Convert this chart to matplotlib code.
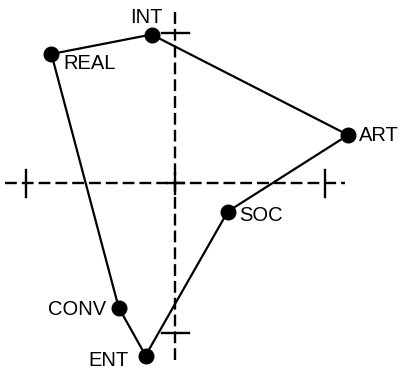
import numpy as np
import matplotlib.pyplot as plt

plt.rcParams['font.family'] = ['Liberation Sans', 'DejaVu Sans']
plt.rcParams['lines.scale_dashes'] = False

# polygon vertices, in order around the outline
labels = ['REAL', 'INT', 'ART', 'SOC', 'ENT', 'CONV']
xs = [-0.83, -0.16, 1.155, 0.35, -0.20, -0.38]
ys = [0.86, 0.99, 0.32, -0.19, -1.15, -0.83]

# reference axes: unit ticks at -1 and +1
tick_pos = [-1, 1]

# label offsets in pixels and alignment
offsets = {
    'REAL': (12, -9, 'left'),
    'INT': (-5, 17, 'center'),
    'ART': (11, 0, 'left'),
    'SOC': (11, -4, 'left'),
    'ENT': (-17, -5, 'right'),
    'CONV': (-13, -2, 'right'),
}

fig = plt.figure(figsize=(4, 3.71), dpi=100)
ax = fig.add_axes([0, 0, 1, 1])
ax.set_xlim(-1.174, 1.502)
ax.set_ylim(-1.253, 1.22)
ax.axis('off')

# dashed axes
dash = [8.5, 3.6]
ax.plot([-1.14, 1.135], [0, 0], color='k', lw=1.7, dashes=dash)
ax.plot([0, 0], [-1.18, 1.165], color='k', lw=1.7, dashes=dash)

# tick crosses
t = 0.09
for p in tick_pos:
    ax.plot([p, p], [-t, t], color='k', lw=1.7)
    ax.plot([-t, t], [p, p], color='k', lw=1.7)
ax.plot([-0.06, 0.06], [0, 0], color='k', lw=1.7)
ax.plot([0, 0], [-0.07, 0.07], color='k', lw=1.7)

# profile polygon
px = xs + xs[:1]
py = ys + ys[:1]
ax.plot(px, py, color='k', lw=1.6, zorder=3)
ax.plot(xs, ys, 'o', color='k', ms=10.5, zorder=4)

for lab, x, y in zip(labels, xs, ys):
    dx, dy, ha = offsets[lab]
    ax.annotate(lab, (x, y), xytext=(dx, dy), textcoords='offset pixels',
                ha=ha, va='center', fontsize=14.5)

fig.savefig('out.png', dpi=100)
